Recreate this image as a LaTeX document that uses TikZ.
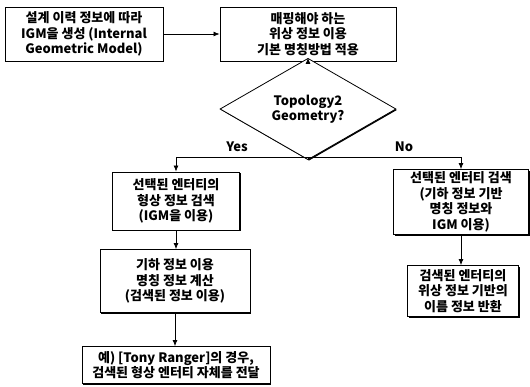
\documentclass[tikz,border=0pt]{standalone}
\usepackage{fontspec}
\setmainfont{Noto Sans CJK KR}
\usetikzlibrary{shapes.geometric,arrows.meta,shadows}
\tikzset{
  flowbox/.style={draw, line width=0.9pt, fill=white, align=center,
    inner sep=1pt, font=\bfseries\fontsize{13}{15.5}\selectfont,
    drop shadow={shadow xshift=1.4pt, shadow yshift=-1.4pt, opacity=1, fill=black}},
  decision/.style={diamond, draw, line width=0.8pt, fill=white, align=center,
    inner sep=0pt, font=\bfseries\fontsize{13}{15.5}\selectfont,
    drop shadow={shadow xshift=1pt, shadow yshift=-1pt, opacity=1, fill=black}},
  flow/.style={line width=0.7pt, -{Latex[length=6pt,width=5pt]}},
  tag/.style={font=\bfseries\fontsize{13}{15}\selectfont}
}
\begin{document}
\begin{tikzpicture}[x=1pt,y=-1pt]
\useasboundingbox (0,0) rectangle (530,386);

\node[flowbox, minimum width=158pt, minimum height=54pt] (igm) at (84,34)
  {설계 이력 정보에 따라\\IGM을 생성 (Internal\\Geometric Model)};
\node[flowbox, minimum width=176pt, minimum height=54pt] (map) at (308,34)
  {매핑해야 하는\\위상 정보 이용\\기본 명칭방법 적용};
\node[decision, minimum width=176pt, minimum height=66pt] (topo) at (308,109)
  {Topology2\\Geometry?};
\coordinate (split) at (308,157);

\node[flowbox, minimum width=127pt, minimum height=58pt] (shape) at (176,201)
  {선택된 엔터티의\\형상 정보 검색\\(IGM을 이용)};
\node[flowbox, minimum width=150pt, minimum height=63pt] (calc) at (175,281)
  {기하 정보 이용\\명칭 정보 계산\\(검색된 정보 이용)};
\node[flowbox, minimum width=188pt, minimum height=37pt] (pass) at (176,365)
  {예) [Tony Ranger]의 경우,\\검색된 형상 엔터티 자체를 전달};

\node[flowbox, minimum width=135pt, minimum height=65pt] (find) at (461,202)
  {선택된 엔터티 검색\\(기하 정보 기반\\명칭 정보와\\IGM 이용)};
\node[flowbox, minimum width=111pt, minimum height=51pt] (name) at (463,291)
  {검색된 엔터티의\\위상 정보 기반의\\이름 정보 반환};

\draw[flow] (igm) -- (map);
\draw[flow] (map) -- (topo);
\draw[line width=0.7pt] (topo.south) -- (split);
\draw[flow] (split) -| (shape.north);
\draw[flow] (split) -| (find.north);
\draw[flow] (shape) -- (shape.south |- calc.north);
\draw[flow] (calc) -- (calc.south |- pass.north);
\draw[flow] (find) -- (find.south |- name.north);

\node[tag] (yes) at (237,147) {Yes};
\node[tag] (no) at (404,147) {No};
\end{tikzpicture}
\end{document}
